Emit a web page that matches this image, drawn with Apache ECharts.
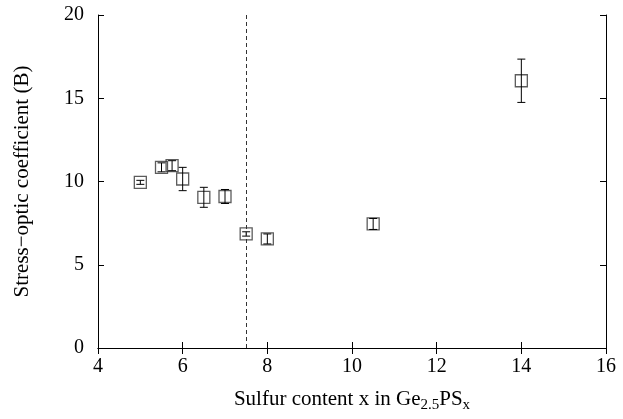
<!DOCTYPE html>
<html><head><meta charset="utf-8">
<script src="https://cdn.jsdelivr.net/npm/echarts@6/dist/echarts.min.js"></script>
<style>html,body{margin:0;padding:0;background:#fff}#c{width:623px;height:419px}</style>
</head><body><div id="c"></div>
<script>
const sulfur = [5, 5.5, 5.75, 6, 6.5, 7, 7.5, 8, 10.5, 14];
const coeff = [9.95, 10.85, 10.95, 10.15, 9.05, 9.1, 6.85, 6.55, 7.45, 16.05];
const errs = [0.12, 0.27, 0.3, 0.7, 0.6, 0.42, 0.13, 0.3, 0.33, 1.3];
const xTicks = [4, 6, 8, 10, 12, 14, 16];
const yTicks = [0, 5, 10, 15, 20];
const thresholdX = 7.5;

const font = 'Liberation Serif, Times New Roman, serif';
const pts = sulfur.map((x, i) => [x, coeff[i]]);
const errData = sulfur.map((x, i) => [x, coeff[i] - errs[i], coeff[i] + errs[i]]);

const chart = echarts.init(document.getElementById('c'));
const axisBase = {
  axisLine: { show: true, lineStyle: { color: '#000', width: 1 } },
  axisTick: { show: true, inside: true, length: 6, lineStyle: { color: '#000' } },
  splitLine: { show: false }
};
chart.setOption({
  animation: false,
  grid: { left: 98, right: 17, top: 15, bottom: 71 },
  xAxis: [
    Object.assign({}, axisBase, {
      type: 'value', min: xTicks[0], max: xTicks[xTicks.length - 1], interval: 2,
      axisLabel: { color: '#000', fontFamily: font, fontSize: 20, margin: 9 },
      name: 'Sulfur content x in Ge{sub|2.5}PS{sub|x}',
      nameLocation: 'middle', nameGap: 38,
      nameTextStyle: {
        color: '#000', fontFamily: font, fontSize: 21,
        rich: { sub: { fontFamily: font, fontSize: 15, color: '#000', padding: [12, 0, 0, 0] } }
      }
    }),
    Object.assign({}, axisBase, {
      type: 'value', position: 'top', min: xTicks[0], max: xTicks[xTicks.length - 1], interval: 2,
      axisLabel: { show: false }
    })
  ],
  yAxis: [
    Object.assign({}, axisBase, {
      type: 'value', min: yTicks[0], max: yTicks[yTicks.length - 1], interval: 5,
      axisLabel: { color: '#000', fontFamily: font, fontSize: 20, margin: 14 },
      name: 'Stress\u2212optic coefficient (B)',
      nameLocation: 'middle', nameGap: 65,
      nameTextStyle: { color: '#000', fontFamily: font, fontSize: 21 }
    }),
    Object.assign({}, axisBase, {
      type: 'value', position: 'right', min: yTicks[0], max: yTicks[yTicks.length - 1], interval: 5,
      axisLabel: { show: false }
    })
  ],
  series: [
    {
      type: 'custom',
      data: errData,
      z: 3,
      renderItem: function (params, api) {
        const x = api.value(0);
        const lo = api.coord([x, api.value(1)]);
        const hi = api.coord([x, api.value(2)]);
        const cap = 4;
        const st = { stroke: '#000', lineWidth: 1 };
        return {
          type: 'group',
          children: [
            { type: 'line', shape: { x1: lo[0], y1: lo[1], x2: hi[0], y2: hi[1] }, style: st },
            { type: 'line', shape: { x1: lo[0] - cap, y1: lo[1], x2: lo[0] + cap, y2: lo[1] }, style: st },
            { type: 'line', shape: { x1: hi[0] - cap, y1: hi[1], x2: hi[0] + cap, y2: hi[1] }, style: st }
          ]
        };
      }
    },
    {
      type: 'scatter',
      data: pts,
      symbol: 'rect',
      symbolSize: 12,
      z: 2,
      itemStyle: { color: 'rgba(255,255,255,0)', borderColor: '#333', borderWidth: 1.3 },
      markLine: {
        silent: true, symbol: 'none', label: { show: false },
        lineStyle: { color: '#333', type: [4, 3], width: 1 },
        data: [{ xAxis: thresholdX }]
      }
    }
  ]
});
</script></body></html>
